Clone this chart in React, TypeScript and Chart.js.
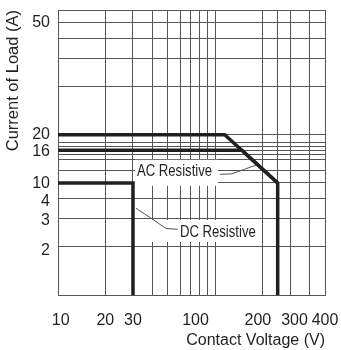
import React, { useEffect, useRef } from 'react';
import { Chart, registerables } from 'chart.js';

Chart.register(...registerables);

const FONT = '"Liberation Sans", Arial, Helvetica, sans-serif';
const INK = '#231f20';
const GRID = '#555555';

// x axis (Contact Voltage, log scale)
const xMin = 10;
const xMax = 500;
const xGridValues = [10, 20, 30, 40, 50, 60, 70, 80, 90, 100, 200, 250, 300, 400, 500];
const xLabelValues = [10.4, 20, 30, 75, 187, 320, 500];
const xLabelTexts = ['10', '20', '30', '100', '200', '300', '400'];

// y axis (Current of Load, log scale as printed)
const yMin = 1;
const yMax = 60;
const yGridValues = [1, 2, 3, 4, 5, 6, 7, 7.5, 8, 8.5, 9, 10, 20, 30, 40, 50, 60];
const yLabelValues = [1.9, 2.9, 3.8, 4.95, 7.9, 10, 50];
const yLabelTexts = ['2', '3', '4', '10', '16', '20', '50'];

// series (y in axis units of the printed grid)
const ac20Voltage = [10, 115, 250, 250];
const ac20Load = [10, 10, 5, 1];
const ac16Voltage = [10, 148, 250];
const ac16Load = [8, 8, 5];
const dcVoltage = [10, 30, 30];
const dcLoad = [5, 5, 1];

// annotations
const acLabelText = 'AC Resistive';
const acLabelAt = [31.8, 5.87];
const acLeaderVoltage = [107.1, 127.7, 156.7, 184.1];
const acLeaderLoad = [5.66, 5.7, 6.13, 6.49];
const dcLabelText = 'DC Resistive';
const dcLabelAt = [59.7, 2.44];
const dcLeaderVoltage = [31.3, 39.6, 48.6, 57.9];
const dcLeaderLoad = [3.48, 2.99, 2.6, 2.57];

const toPoints = (xs: number[], ys: number[]) => xs.map((v, i) => ({ x: v, y: ys[i] }));

const xTickValues = Array.from(new Set([...xGridValues, ...xLabelValues])).sort((a, b) => a - b);
const yTickValues = Array.from(new Set([...yGridValues, ...yLabelValues])).sort((a, b) => a - b);

const annotationPlugin = {
  id: 'relayAnnotations',
  beforeDatasetsDraw(chart: any) {
    const { ctx } = chart;
    const xs = chart.scales.x;
    const ys = chart.scales.y;
    const drawLabel = (text: string, at: number[], box: number[]) => {
      const px = xs.getPixelForValue(at[0]);
      const py = ys.getPixelForValue(at[1]);
      ctx.save();
      ctx.fillStyle = '#ffffff';
      ctx.fillRect(px + box[0], py + box[1], box[2], box[3]);
      ctx.font = `16px ${FONT}`;
      ctx.textBaseline = 'middle';
      ctx.textAlign = 'left';
      ctx.fillStyle = INK;
      ctx.translate(px, py);
      ctx.scale(0.82, 1);
      ctx.fillText(text, 0, 0);
      ctx.restore();
    };
    const drawLeader = (vx: number[], vy: number[]) => {
      ctx.save();
      ctx.strokeStyle = '#555555';
      ctx.lineWidth = 1;
      ctx.lineJoin = 'round';
      ctx.beginPath();
      vx.forEach((v, i) => {
        const px = xs.getPixelForValue(v);
        const py = ys.getPixelForValue(vy[i]);
        if (i === 0) ctx.moveTo(px, py);
        else ctx.lineTo(px, py);
      });
      ctx.stroke();
      ctx.restore();
    };
    drawLabel(acLabelText, acLabelAt, [-2, -12, 83, 26]);
    drawLabel(dcLabelText, dcLabelAt, [-35, -13, 115, 22]);
    drawLeader(acLeaderVoltage, acLeaderLoad);
    drawLeader(dcLeaderVoltage, dcLeaderLoad);
  },
};

export default function App() {
  const ref = useRef<HTMLCanvasElement | null>(null);
  useEffect(() => {
    if (!ref.current) return;
    const lineStyle = {
      borderColor: INK,
      borderWidth: 3.5,
      pointRadius: 0,
      tension: 0,
      fill: false,
      borderJoinStyle: 'miter' as const,
      borderCapStyle: 'butt' as const,
    };
    const chart = new Chart(ref.current, {
      type: 'line',
      data: {
        datasets: [
          { label: 'AC 20A', data: toPoints(ac20Voltage, ac20Load), ...lineStyle },
          { label: 'AC 16A', data: toPoints(ac16Voltage, ac16Load), ...lineStyle },
          { label: 'DC 10A', data: toPoints(dcVoltage, dcLoad), ...lineStyle },
        ],
      },
      options: {
        animation: false,
        responsive: false,
        events: [],
        layout: { padding: { top: 10, right: 16, left: 0, bottom: 0 } },
        plugins: { legend: { display: false }, tooltip: { enabled: false } },
        scales: {
          x: {
            type: 'logarithmic',
            position: 'bottom',
            min: xMin,
            max: xMax,
            afterBuildTicks: (s: any) => {
              s.ticks = xTickValues.map((v) => ({ value: v }));
            },
            afterFit: (s: any) => {
              s.height = 55;
              s.paddingLeft = 0;
              s.paddingRight = 0;
            },
            grid: {
              drawTicks: false,
              lineWidth: 1,
              color: (c: any) => (c.tick && xGridValues.includes(c.tick.value) ? GRID : 'rgba(0,0,0,0)'),
            },
            border: { display: true, color: GRID, width: 1 },
            ticks: {
              autoSkip: false,
              maxRotation: 0,
              padding: 16,
              color: INK,
              font: { family: FONT, size: 16 },
              callback: (v: any) => {
                const i = xLabelValues.indexOf(Number(v));
                return i >= 0 ? xLabelTexts[i] : '';
              },
            },
            title: {
              display: true,
              text: 'Contact Voltage (V)',
              align: 'end',
              color: INK,
              font: { family: FONT, size: 16 },
              padding: { top: 0, bottom: 0 },
            },
          },
          y: {
            type: 'logarithmic',
            min: yMin,
            max: yMax,
            afterBuildTicks: (s: any) => {
              s.ticks = yTickValues.map((v) => ({ value: v }));
            },
            afterFit: (s: any) => {
              s.width = 58;
              s.paddingTop = 0;
              s.paddingBottom = 0;
            },
            grid: {
              drawTicks: false,
              lineWidth: 1,
              color: (c: any) => (c.tick && yGridValues.includes(c.tick.value) ? GRID : 'rgba(0,0,0,0)'),
            },
            border: { display: true, color: GRID, width: 1 },
            ticks: {
              autoSkip: false,
              padding: 8,
              color: INK,
              font: { family: FONT, size: 16 },
              callback: (v: any) => {
                const i = yLabelValues.indexOf(Number(v));
                return i >= 0 ? yLabelTexts[i] : '';
              },
            },
            title: {
              display: true,
              text: 'Current of Load (A)',
              align: 'end',
              color: INK,
              font: { family: FONT, size: 16.5 },
              padding: { top: 4, bottom: 0 },
            },
          },
        },
      },
      plugins: [annotationPlugin],
    } as any);
    return () => chart.destroy();
  }, []);
  return (
    <div style={{ position: 'fixed', left: 0, top: 0, width: 341, height: 350, background: '#fff' }}>
      <canvas ref={ref} width={341} height={350} style={{ display: 'block', width: 341, height: 350 }} />
    </div>
  );
}
